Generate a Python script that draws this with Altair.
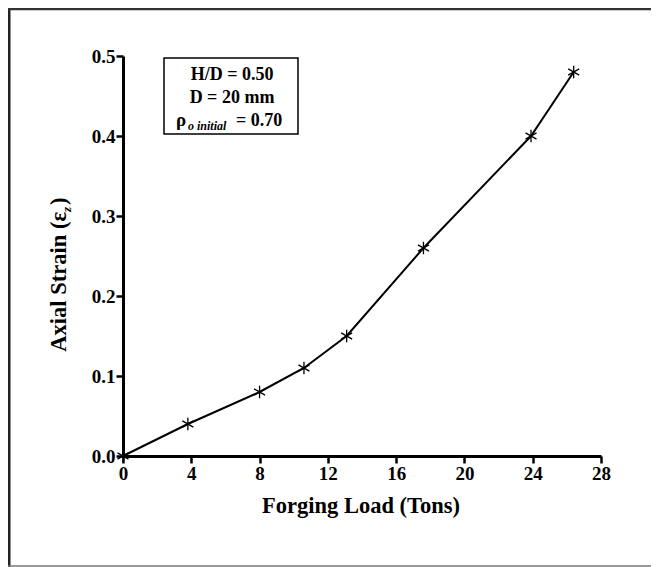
import altair as alt
import pandas as pd

# data
load_tons = [0.0, 3.8, 8.0, 10.6, 13.1, 17.6, 23.9, 26.4]
axial_strain = [0.0, 0.04, 0.08, 0.11, 0.15, 0.26, 0.40, 0.48]
x_ticks = [0, 2, 4, 6, 8, 10, 12, 14, 16, 18, 20, 22, 24, 26, 28]
y_ticks = [0.0, 0.05, 0.1, 0.15, 0.2, 0.25, 0.3, 0.35, 0.4, 0.45, 0.5]

df = pd.DataFrame({"load": load_tons, "strain": axial_strain})

W, H = 478, 400
SERIF = "Liberation Serif"

x_enc = alt.X(
    "load:Q",
    scale=alt.Scale(domain=[0, 28], nice=False),
    axis=alt.Axis(
        values=x_ticks,
        labelExpr="datum.value % 4 == 0 ? datum.label : ''",
        tickSize={"condition": {"test": "datum.value % 4 != 0", "value": 4}, "value": 7},
        title=None,
        grid=False,
        labelFont=SERIF, labelFontWeight="bold", labelFontSize=19, labelColor="black",
        labelPadding=1, labelFlush=False, labelOverlap=False,
        domainColor="black", domainWidth=3, tickColor="black", tickWidth=2.5,
    ),
)
y_enc = alt.Y(
    "strain:Q",
    scale=alt.Scale(domain=[0, 0.5], nice=False),
    axis=alt.Axis(
        values=y_ticks,
        labelExpr="round(datum.value*100) % 10 == 0 ? format(datum.value, '.1f') : ''",
        tickSize={"condition": {"test": "round(datum.value*100) % 10 != 0", "value": 4}, "value": 7},
        title=None,
        grid=False,
        labelFont=SERIF, labelFontWeight="bold", labelFontSize=19, labelColor="black",
        labelPadding=1, labelFlush=False, labelOverlap=False,
        domainColor="black", domainWidth=3, tickColor="black", tickWidth=2.5,
    ),
)

line = alt.Chart(df).mark_line(color="black", strokeWidth=2).encode(x=x_enc, y=y_enc)

ASTERISK = "M0,-1L0,1M-0.87,-0.5L0.87,0.5M-0.87,0.5L0.87,-0.5"
pts = alt.Chart(df).mark_point(
    shape=ASTERISK, size=160, filled=False, stroke="black", strokeWidth=1.3, opacity=1
).encode(x="load:Q", y="strain:Q")

one = pd.DataFrame({"k": [0]})


def txt(s, x, y, size, style="normal", align="center", angle=0, baseline="alphabetic", font=SERIF):
    return alt.Chart(one).mark_text(
        text=s, font=font, fontSize=size, fontWeight="bold", fontStyle=style,
        align=align, baseline=baseline, angle=angle, color="black",
    ).encode(x=alt.value(x), y=alt.value(y))


# annotation box (plot coordinates: origin at plot top-left)
box = alt.Chart(one).mark_rect(fillOpacity=0, stroke="black", strokeWidth=1.5).encode(
    x=alt.value(41), x2=alt.value(175), y=alt.value(2), y2=alt.value(78)
)
t1 = txt("H/D = 0.50", 109, 24, 18)
t2 = txt("D = 20 mm", 109, 47, 18)
t3a = txt("ρ", 53, 70, 19, align="left")
t3b = txt("o initial", 65, 74, 12, style="italic", align="left")
t3c = txt("= 0.70", 113, 70, 18, align="left")

# axis titles
xt = txt("Forging Load (Tons)", 238, 457, 22.5)
yt1 = txt("Axial Strain (ε", -57, 156, 22.5, align="right", angle=270)
yt2 = txt("z", -52, 156, 13, style="italic", align="left", angle=270)
yt3 = txt(")", -57, 149, 22.5, align="left", angle=270)

# outer frame
frame_l = alt.Chart(one).mark_rule(color="#222", strokeWidth=3).encode(
    x=alt.value(-114), y=alt.value(-48), y2=alt.value(511)
)
frame_t = alt.Chart(one).mark_rule(color="#333", strokeWidth=2.5).encode(
    x=alt.value(-115), x2=alt.value(528), y=alt.value(-47)
)
frame_b = alt.Chart(one).mark_rule(color="#777", strokeWidth=1.5).encode(
    x=alt.value(-115), x2=alt.value(528), y=alt.value(510)
)

chart = alt.layer(
    line, pts, box, t1, t2, t3a, t3b, t3c, xt, yt1, yt2, yt3, frame_l, frame_t, frame_b
).properties(
    width=W, height=H,
    autosize=alt.AutoSizeParams(type="none"),
    padding={"left": 115, "top": 48, "right": 50, "bottom": 111},
    background="white",
).configure_view(stroke=None)

chart.save("out.html", embed_options={"renderer": "svg", "actions": False})
